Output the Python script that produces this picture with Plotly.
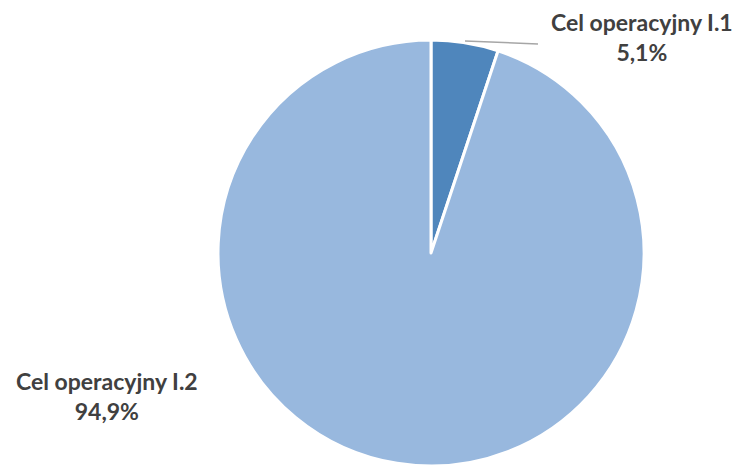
import plotly.graph_objects as go

labels = ["Cel operacyjny I.1", "Cel operacyjny I.2"]
values = [5.1, 94.9]
colors = ["#4F86BC", "#98B8DE"]

W, H = 744, 466
OFF = 8  # page body margin

def px_x(x):
    return (x - OFF) / W

def px_y(y):
    return 1 - (y - OFF) / H

fig = go.Figure(go.Pie(
    labels=labels,
    values=values,
    sort=False,
    direction="clockwise",
    rotation=0,
    textinfo="none",
    hoverinfo="label+percent",
    marker=dict(colors=colors, line=dict(color="white", width=3)),
    domain=dict(x=[px_x(218), px_x(644)], y=[px_y(466), px_y(40)]),
    showlegend=False,
))

def fmt(v):
    return f"{v:.1f}".replace(".", ",") + "%"

label_pos = [(642, 37), (107, 396)]
for lab, val, (lx, ly) in zip(labels, values, label_pos):
    fig.add_annotation(
        x=px_x(lx), y=px_y(ly), xref="paper", yref="paper",
        text=f"{lab}<br>{fmt(val)}", showarrow=False,
        xanchor="center", yanchor="middle", align="center",
        font=dict(family="Lato", size=23, color="#404040", weight="bold"),
    )

# leader line for the small slice
fig.add_shape(type="line", xref="paper", yref="paper",
              x0=px_x(465), y0=px_y(41), x1=px_x(538), y1=px_y(44),
              line=dict(color="#A6A6A6", width=1.5))

fig.update_layout(
    width=W, height=H,
    margin=dict(l=0, r=0, t=0, b=0),
    paper_bgcolor="white", plot_bgcolor="white",
)

fig.write_html("out.html")
